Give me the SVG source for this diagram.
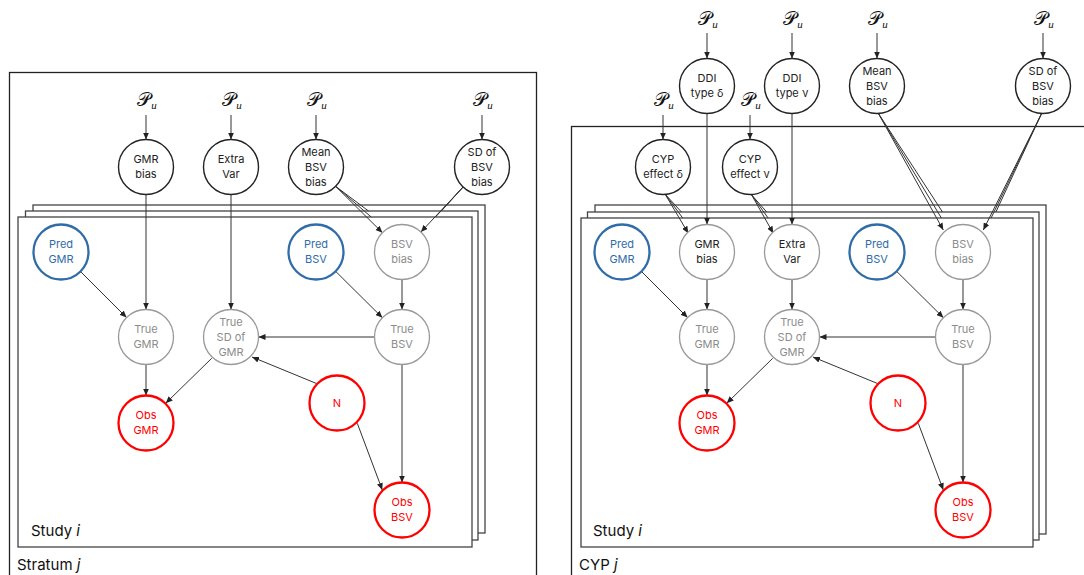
<svg xmlns="http://www.w3.org/2000/svg" width="1084" height="575" viewBox="0 0 1084 575">
<defs>
<marker id="ah" markerWidth="7" markerHeight="6" refX="7" refY="3" orient="auto" markerUnits="userSpaceOnUse">
<path d="M0,0 L7,3 L0,6 z" fill="#222"/>
</marker>
<style>
.frame{fill:none;stroke:#222;stroke-width:1.3}
.plate{fill:#fff;stroke:#444;stroke-width:1.3}
.nb{fill:#fff;stroke:#222;stroke-width:1.4}
.ng{fill:#fff;stroke:#999;stroke-width:1.3}
.nblue{fill:#fff;stroke:#2F6CA8;stroke-width:2.3}
.nred{fill:#fff;stroke:#FF0000;stroke-width:2.3}
.t{font-family:Inter,"Noto Sans","Liberation Sans",sans-serif;font-size:11px;text-anchor:middle}
.tb{fill:#222}
.tg{fill:#8c8c8c}
.tblue{fill:#2F6CA8}
.tred{fill:#FF0000}
.lab{font-family:Inter,"Noto Sans","Liberation Sans",sans-serif;font-size:15px;fill:#111}
.pu{font-family:"DejaVu Serif","Liberation Serif",serif;font-size:19px;fill:#111;text-anchor:middle}
.sub{font-family:"Liberation Serif",serif;font-size:11px;font-style:italic}
.e{stroke:#333;stroke-width:1;fill:none}
.ea{stroke:#333;stroke-width:1;fill:none;marker-end:url(#ah)}
</style>
</defs>
<rect width="1084" height="575" fill="#fff"/>

<!-- LEFT PANEL -->
<g id="stratum-frame">
<rect class="frame" x="9.5" y="72.5" width="527" height="530"/>
<text class="lab" x="17" y="570">Stratum <tspan font-style="italic">j</tspan></text>
</g>
<g id="study-plates-left">
<rect class="plate" x="33" y="205" width="452" height="328"/>
<rect class="plate" x="25.5" y="211" width="452.5" height="329"/>
<rect class="plate" x="18" y="217" width="454" height="330"/>
<text class="lab" x="31" y="536">Study <tspan font-style="italic">i</tspan></text>
</g>

<!-- RIGHT PANEL -->
<g id="cyp-frame">
<rect class="frame" x="571.5" y="126.5" width="530" height="480"/>
<text class="lab" x="579" y="570">CYP <tspan font-style="italic">j</tspan></text>
</g>
<g id="study-plates-right">
<rect class="plate" x="595" y="205" width="451" height="329"/>
<rect class="plate" x="587.5" y="212" width="451.5" height="328"/>
<rect class="plate" x="581" y="218" width="452" height="329"/>
<text class="lab" x="593" y="536">Study <tspan font-style="italic">i</tspan></text>
</g>

<g id="connectors">
<!-- left priors -->
<line class="ea" x1="146" y1="115" x2="146" y2="139.5"/>
<line class="ea" x1="231" y1="115" x2="231" y2="139.5"/>
<line class="ea" x1="316" y1="115" x2="316" y2="139.5"/>
<line class="ea" x1="482" y1="115" x2="482" y2="139.5"/>
<line class="ea" x1="146" y1="194.5" x2="146" y2="309.5"/>
<line class="ea" x1="231" y1="194.5" x2="231" y2="309.5"/>
<line class="e" x1="335.6" y1="186.3" x2="368.5" y2="211"/>
<line class="e" x1="335.6" y1="186.3" x2="371.2" y2="217"/>
<line class="ea" x1="335.6" y1="186.3" x2="382.4" y2="232.7"/>
<line class="e" x1="463.1" y1="187" x2="441.4" y2="211"/>
<line class="e" x1="463.1" y1="187" x2="435.5" y2="217"/>
<line class="ea" x1="463.1" y1="187" x2="420.9" y2="232"/>
<line class="ea" x1="80.4" y1="271.4" x2="126.6" y2="317.6"/>
<line class="ea" x1="335.6" y1="271.3" x2="382.4" y2="317.7"/>
<line class="ea" x1="402" y1="279.5" x2="402" y2="309.5"/>
<line class="ea" x1="374.5" y1="337" x2="258.5" y2="337"/>
<line class="ea" x1="316.5" y1="383.5" x2="252" y2="357"/>
<line class="ea" x1="146" y1="364.5" x2="146" y2="395.5"/>
<line class="ea" x1="211.7" y1="358.3" x2="165.7" y2="403.3"/>
<line class="ea" x1="402" y1="364.5" x2="402" y2="482.5"/>
<line class="ea" x1="357.3" y1="423.3" x2="382.3" y2="490"/>
<!-- right priors -->
<line class="ea" x1="707" y1="33" x2="707" y2="58.5"/>
<line class="ea" x1="792" y1="33" x2="792" y2="58.5"/>
<line class="ea" x1="877" y1="33" x2="877" y2="58.5"/>
<line class="ea" x1="1043" y1="33" x2="1043" y2="58.5"/>
<line class="ea" x1="663" y1="115" x2="663" y2="139.5"/>
<line class="ea" x1="750" y1="115" x2="750" y2="139.5"/>
<line class="ea" x1="707" y1="113.5" x2="707" y2="224.5"/>
<line class="ea" x1="792" y1="113.5" x2="792" y2="224.5"/>
<line class="e" x1="665" y1="194" x2="681.4" y2="212"/>
<line class="e" x1="665" y1="194" x2="682.7" y2="218"/>
<line class="ea" x1="665" y1="194" x2="688.3" y2="233.3"/>
<line class="e" x1="751.7" y1="195" x2="766.7" y2="212"/>
<line class="e" x1="751.7" y1="195" x2="768.1" y2="218"/>
<line class="ea" x1="751.7" y1="195" x2="773.3" y2="233.3"/>
<line class="e" x1="878.3" y1="113.3" x2="942.5" y2="212"/>
<line class="e" x1="878.3" y1="113.3" x2="941.4" y2="218"/>
<line class="ea" x1="878.3" y1="113.3" x2="943.3" y2="230"/>
<line class="e" x1="1041.7" y1="113.3" x2="995.9" y2="212"/>
<line class="e" x1="1041.7" y1="113.3" x2="991.1" y2="218"/>
<line class="ea" x1="1041.7" y1="113.3" x2="983.3" y2="230"/>
<line class="ea" x1="641.4" y1="271.4" x2="687.6" y2="317.6"/>
<line class="ea" x1="896.6" y1="271.3" x2="943.4" y2="317.7"/>
<line class="ea" x1="707" y1="279.5" x2="707" y2="309.5"/>
<line class="ea" x1="792" y1="279.5" x2="792" y2="309.5"/>
<line class="ea" x1="963" y1="279.5" x2="963" y2="309.5"/>
<line class="ea" x1="935.5" y1="337" x2="819.5" y2="337"/>
<line class="ea" x1="877.5" y1="383.5" x2="813" y2="357"/>
<line class="ea" x1="707" y1="364.5" x2="707" y2="395.5"/>
<line class="ea" x1="772.7" y1="358.3" x2="726.7" y2="403.3"/>
<line class="ea" x1="963" y1="364.5" x2="963" y2="482.5"/>
<line class="ea" x1="918.3" y1="423.3" x2="943.3" y2="490"/>
</g>

<g id="priors">
<text class="pu" x="147" y="106">𝒫<tspan class="sub" dy="3">u</tspan></text>
<text class="pu" x="232" y="106">𝒫<tspan class="sub" dy="3">u</tspan></text>
<text class="pu" x="317" y="106">𝒫<tspan class="sub" dy="3">u</tspan></text>
<text class="pu" x="483" y="106">𝒫<tspan class="sub" dy="3">u</tspan></text>
<text class="pu" x="708" y="25">𝒫<tspan class="sub" dy="3">u</tspan></text>
<text class="pu" x="793" y="25">𝒫<tspan class="sub" dy="3">u</tspan></text>
<text class="pu" x="878" y="25">𝒫<tspan class="sub" dy="3">u</tspan></text>
<text class="pu" x="1044" y="25">𝒫<tspan class="sub" dy="3">u</tspan></text>
<text class="pu" x="664" y="106">𝒫<tspan class="sub" dy="3">u</tspan></text>
<text class="pu" x="751" y="106">𝒫<tspan class="sub" dy="3">u</tspan></text>
</g>

<!-- LEFT NODES -->
<g id="L-gmr-bias"><circle class="nb" cx="146" cy="167" r="27.5"/><text class="t tb" x="146" y="163">GMR</text><text class="t tb" x="146" y="178">bias</text></g>
<g id="L-extra-var"><circle class="nb" cx="231" cy="167" r="27.5"/><text class="t tb" x="231" y="163">Extra</text><text class="t tb" x="231" y="178">Var</text></g>
<g id="L-mean-bsv-bias"><circle class="nb" cx="316" cy="167" r="27.5"/><text class="t tb" x="316" y="156">Mean</text><text class="t tb" x="316" y="171">BSV</text><text class="t tb" x="316" y="186">bias</text></g>
<g id="L-sd-bsv-bias"><circle class="nb" cx="482" cy="167" r="27.5"/><text class="t tb" x="482" y="156">SD of</text><text class="t tb" x="482" y="171">BSV</text><text class="t tb" x="482" y="186">bias</text></g>
<g id="L-pred-gmr"><circle class="nblue" cx="61" cy="252" r="27.5"/><text class="t tblue" x="61" y="248">Pred</text><text class="t tblue" x="61" y="263">GMR</text></g>
<g id="L-pred-bsv"><circle class="nblue" cx="316" cy="252" r="27.5"/><text class="t tblue" x="316" y="248">Pred</text><text class="t tblue" x="316" y="263">BSV</text></g>
<g id="L-bsv-bias"><circle class="ng" cx="402" cy="252" r="27.5"/><text class="t tg" x="402" y="248">BSV</text><text class="t tg" x="402" y="263">bias</text></g>
<g id="L-true-gmr"><circle class="ng" cx="146" cy="337" r="27.5"/><text class="t tg" x="146" y="333">True</text><text class="t tg" x="146" y="348">GMR</text></g>
<g id="L-true-sd-gmr"><circle class="ng" cx="231" cy="337" r="27.5"/><text class="t tg" x="231" y="326">True</text><text class="t tg" x="231" y="341">SD of</text><text class="t tg" x="231" y="356">GMR</text></g>
<g id="L-true-bsv"><circle class="ng" cx="402" cy="337" r="27.5"/><text class="t tg" x="402" y="333">True</text><text class="t tg" x="402" y="348">BSV</text></g>
<g id="L-n"><circle class="nred" cx="337" cy="403" r="27.5"/><text class="t tred" x="337" y="407">N</text></g>
<g id="L-obs-gmr"><circle class="nred" cx="146" cy="423" r="27.5"/><text class="t tred" x="146" y="419">Obs</text><text class="t tred" x="146" y="434">GMR</text></g>
<g id="L-obs-bsv"><circle class="nred" cx="402" cy="510" r="27.5"/><text class="t tred" x="402" y="506">Obs</text><text class="t tred" x="402" y="521">BSV</text></g>

<!-- RIGHT NODES -->
<g id="R-ddi-type-d"><circle class="nb" cx="707" cy="86" r="27.5"/><text class="t tb" x="707" y="82">DDI</text><text class="t tb" x="707" y="97">type δ</text></g>
<g id="R-ddi-type-v"><circle class="nb" cx="792" cy="86" r="27.5"/><text class="t tb" x="792" y="82">DDI</text><text class="t tb" x="792" y="97">type ν</text></g>
<g id="R-mean-bsv-bias"><circle class="nb" cx="877" cy="86" r="27.5"/><text class="t tb" x="877" y="75">Mean</text><text class="t tb" x="877" y="90">BSV</text><text class="t tb" x="877" y="105">bias</text></g>
<g id="R-sd-bsv-bias"><circle class="nb" cx="1043" cy="86" r="27.5"/><text class="t tb" x="1043" y="75">SD of</text><text class="t tb" x="1043" y="90">BSV</text><text class="t tb" x="1043" y="105">bias</text></g>
<g id="R-cyp-effect-d"><circle class="nb" cx="663" cy="167" r="27.5"/><text class="t tb" x="663" y="163">CYP</text><text class="t tb" x="663" y="178">effect δ</text></g>
<g id="R-cyp-effect-v"><circle class="nb" cx="750" cy="167" r="27.5"/><text class="t tb" x="750" y="163">CYP</text><text class="t tb" x="750" y="178">effect ν</text></g>
<g id="R-pred-gmr"><circle class="nblue" cx="622" cy="252" r="27.5"/><text class="t tblue" x="622" y="248">Pred</text><text class="t tblue" x="622" y="263">GMR</text></g>
<g id="R-gmr-bias"><circle class="ng" cx="707" cy="252" r="27.5"/><text class="t tb" x="707" y="248">GMR</text><text class="t tb" x="707" y="263">bias</text></g>
<g id="R-extra-var"><circle class="ng" cx="792" cy="252" r="27.5"/><text class="t tb" x="792" y="248">Extra</text><text class="t tb" x="792" y="263">Var</text></g>
<g id="R-pred-bsv"><circle class="nblue" cx="877" cy="252" r="27.5"/><text class="t tblue" x="877" y="248">Pred</text><text class="t tblue" x="877" y="263">BSV</text></g>
<g id="R-bsv-bias"><circle class="ng" cx="963" cy="252" r="27.5"/><text class="t tg" x="963" y="248">BSV</text><text class="t tg" x="963" y="263">bias</text></g>
<g id="R-true-gmr"><circle class="ng" cx="707" cy="337" r="27.5"/><text class="t tg" x="707" y="333">True</text><text class="t tg" x="707" y="348">GMR</text></g>
<g id="R-true-sd-gmr"><circle class="ng" cx="792" cy="337" r="27.5"/><text class="t tg" x="792" y="326">True</text><text class="t tg" x="792" y="341">SD of</text><text class="t tg" x="792" y="356">GMR</text></g>
<g id="R-true-bsv"><circle class="ng" cx="963" cy="337" r="27.5"/><text class="t tg" x="963" y="333">True</text><text class="t tg" x="963" y="348">BSV</text></g>
<g id="R-n"><circle class="nred" cx="898" cy="403" r="27.5"/><text class="t tred" x="898" y="407">N</text></g>
<g id="R-obs-gmr"><circle class="nred" cx="707" cy="423" r="27.5"/><text class="t tred" x="707" y="419">Obs</text><text class="t tred" x="707" y="434">GMR</text></g>
<g id="R-obs-bsv"><circle class="nred" cx="963" cy="510" r="27.5"/><text class="t tred" x="963" y="506">Obs</text><text class="t tred" x="963" y="521">BSV</text></g>
</svg>
